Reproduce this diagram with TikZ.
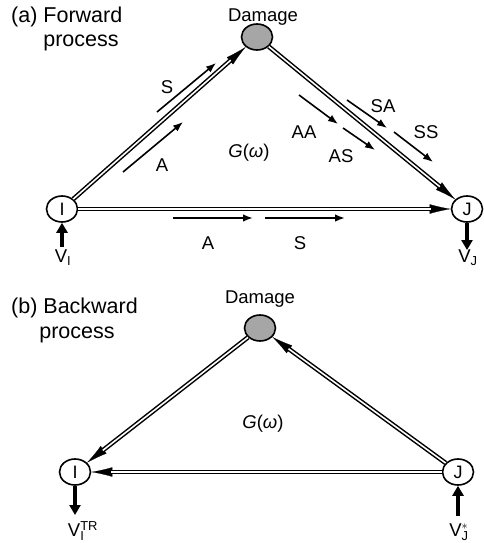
\documentclass[tikz,border=0pt]{standalone}
\usepackage{fontspec}
\setmainfont{Liberation Sans}
\usetikzlibrary{arrows.meta,shapes.geometric}
\begin{document}
\begin{tikzpicture}[x=1pt,y=-1pt,
  nd/.style={ellipse, draw, line width=1.6pt, minimum width=31pt, minimum height=26pt, inner sep=0pt, font=\fontsize{18}{21}\selectfont},
  dmg/.style={nd, fill=black!35},
  % double line: thick black stroke, a long solid tip, then a white core on top
  dbl/.style={line width=4.6pt, shorten >=16pt,
    postaction={draw, line width=0.2pt, shorten >=0pt, -{Latex[length=21pt,width=9.5pt]}},
    postaction={draw=white, line width=1.6pt, shorten >=20pt}},
  sarr/.style={line width=1.6pt, -{Latex[length=10pt,width=7.5pt]}},
  big/.style={line width=3.6pt, -{Triangle[length=10pt,width=11pt]}},
  lbl/.style={font=\fontsize{18.5}{22}\selectfont, inner sep=0pt},
  head/.style={font=\fontsize{21.5}{25}\selectfont, inner sep=0pt}]
\useasboundingbox (0,0) rectangle (484,543);

% ---------- (a) forward process ----------
\node[head, anchor=west] (ha) at (11,17) {(a) Forward};
\node[head] (pa) at (81,43) {process};

\node[dmg] (D1) at (257,37) {};
\node[lbl] (dl1) at (263,17) {Damage};
\node[nd] (I1) at (62,209) {I};
\node[nd] (J1) at (467,209) {J};

\draw[dbl] (I1) -- (D1);
\draw[dbl] (D1) -- (J1);
\draw[dbl] (I1) -- (J1);

% incoming and outgoing velocities
\coordinate (vi1) at (62,247);
\coordinate (vj1) at (467,250);
\draw[big] (vi1) -- (I1.south);
\draw[big] (J1.south) -- (vj1);
\node[lbl] (VI) at (63,258) {$\mathrm{V}_{\mathrm{I}}$};
\node[lbl] (VJ) at (468,258) {$\mathrm{V}_{\mathrm{J}}$};

% wave components along I--Damage
\coordinate (s1a) at (157,112); \coordinate (s1b) at (216,63);
\draw[sarr] (s1a) -- (s1b);
\node[lbl] (sl1) at (167,87) {S};
\coordinate (a1a) at (123,172); \coordinate (a1b) at (183,122);
\draw[sarr] (a1a) -- (a1b);
\node[lbl] (al1) at (162,165) {A};

\node[lbl] (G1) at (249,153) {\textit{G}(\textit{ω})};

% wave components along Damage--J
\coordinate (aa1) at (299,95); \coordinate (aa2) at (338,124);
\draw[sarr] (aa1) -- (aa2);
\node[lbl] (aal) at (304,132) {AA};
\coordinate (as1) at (343,128); \coordinate (as2) at (375,150);
\draw[sarr] (as1) -- (as2);
\node[lbl] (asl) at (341,156) {AS};
\coordinate (sa1) at (347,100); \coordinate (sa2) at (387,128);
\draw[sarr] (sa1) -- (sa2);
\node[lbl] (sal) at (383,106) {SA};
\coordinate (ss1) at (394,132); \coordinate (ss2) at (433,162);
\draw[sarr] (ss1) -- (ss2);
\node[lbl] (ssl) at (426,132) {SS};

% wave components along I--J
\coordinate (h1a) at (173,218); \coordinate (h1b) at (253,218);
\draw[sarr] (h1a) -- (h1b);
\node[lbl] (hal) at (208,243) {A};
\coordinate (h2a) at (265,218); \coordinate (h2b) at (345,218);
\draw[sarr] (h2a) -- (h2b);
\node[lbl] (hsl) at (300,243) {S};

% ---------- (b) backward process ----------
\node[head, anchor=west] (hb) at (11,308) {(b) Backward};
\node[head] (pb) at (77,335) {process};

\node[dmg] (D2) at (260,328) {};
\node[lbl] (dl2) at (260,299) {Damage};
\node[nd] (I2) at (75,472) {I};
\node[nd] (J2) at (458,472) {J};

\draw[dbl] (D2) -- (I2);
\draw[dbl] (J2) -- (D2);
\draw[dbl] (J2) -- (I2);

\node[lbl] (G2) at (263,424) {\textit{G}(\textit{ω})};

\coordinate (vi2) at (75,515);
\coordinate (vj2) at (458,516);
\draw[big] (I2.south) -- (vi2);
\draw[big] (vj2) -- (J2.south);
\node[lbl] (VIT) at (83,531) {$\mathrm{V}_{\mathrm{I}}^{\mathrm{TR}}$};
\node[lbl] (VJs) at (459,532) {$\mathrm{V}_{\mathrm{J}}^{*}$};
\end{tikzpicture}
\end{document}
